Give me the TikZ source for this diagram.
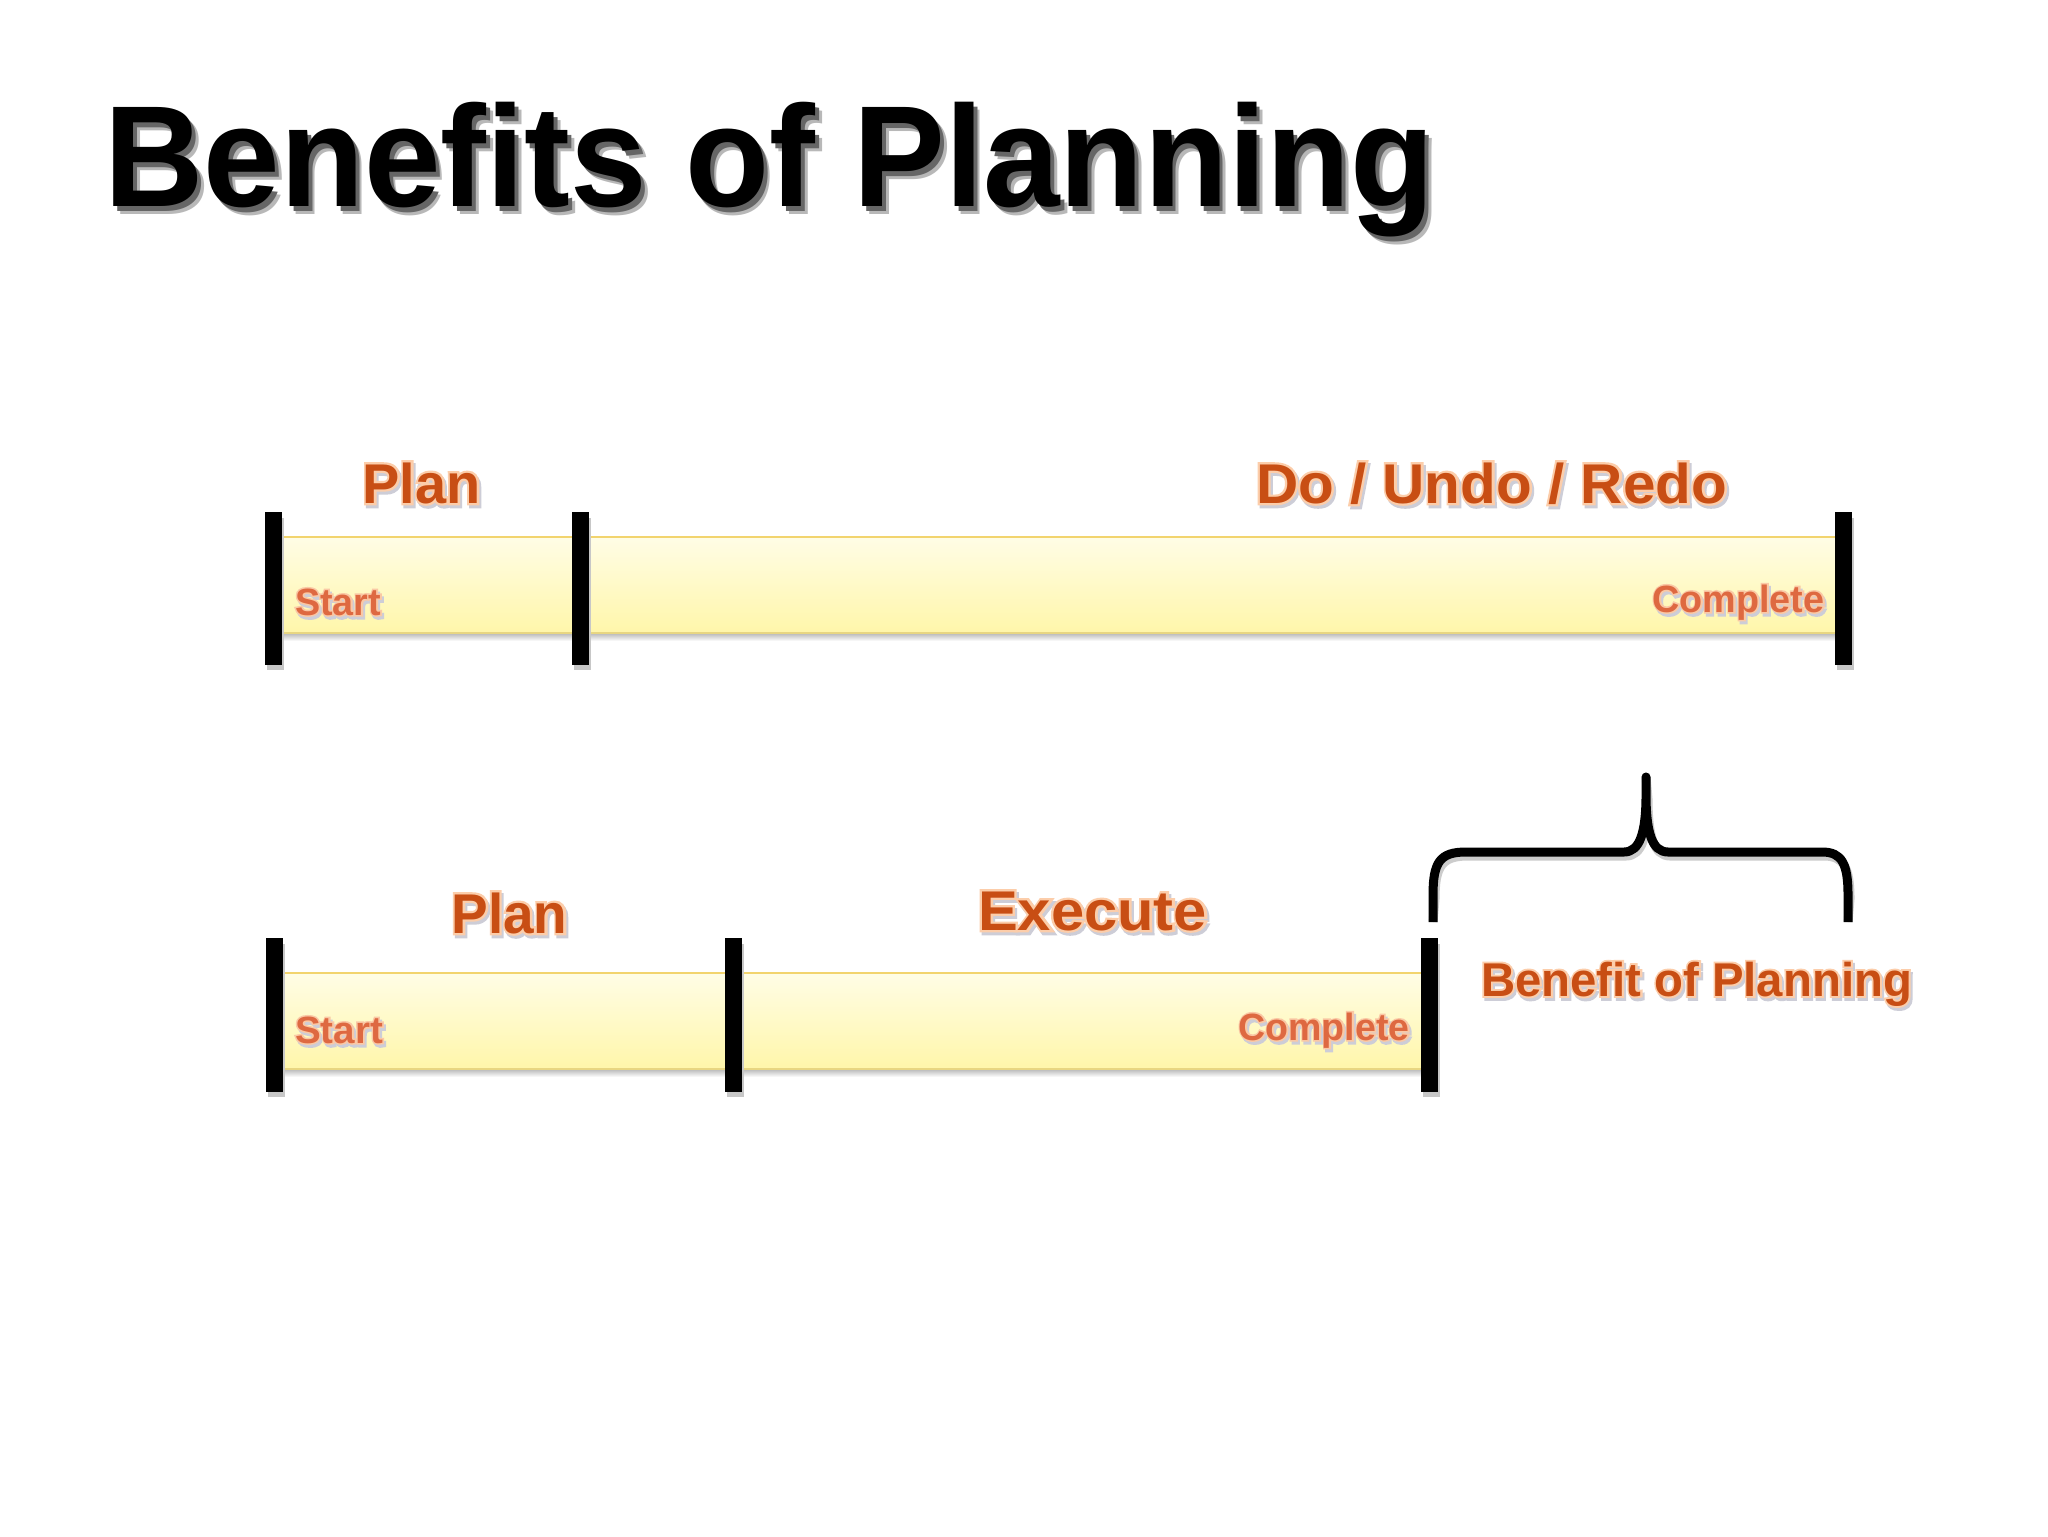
\documentclass[tikz,border=0pt]{standalone}
\usepackage{fontspec}
\usepackage{graphicx}
\newfontfamily\sansf{Liberation Sans}
\newfontfamily\sansglow{Liberation Sans}[FakeBold=8]
\definecolor{lblc}{RGB}{200,78,20}
\definecolor{lblglowc}{RGB}{252,205,170}
\definecolor{smc}{RGB}{222,105,65}
\definecolor{smglowc}{RGB}{250,200,165}
\definecolor{shadc}{RGB}{205,205,215}
\definecolor{bandtop}{RGB}{255,253,230}
\definecolor{bandbot}{RGB}{255,246,170}
\definecolor{bandline}{RGB}{242,212,110}
\definecolor{bandlow}{RGB}{232,214,130}
% #1 size, #2 width, #3 main colour, #4 glow colour, #5 shadow colour, #6 text
\newcommand\fx[6]{\resizebox{#2}{\height}{\sansf\fontsize{#1}{#1}\selectfont\bfseries
  \rlap{\kern1pt\raisebox{-1.5pt}{\sansglow\bfseries\color{#5}#6}}%
  \rlap{\sansglow\bfseries\color{#4}#6}%
  {\color{#3}#6}}}
\newcommand\ttl[1]{\resizebox{665pt}{\height}{\sansf\fontsize{72pt}{72pt}\selectfont\bfseries
  \rlap{\kern3.5pt\raisebox{-4pt}{\color{black!28}#1}}%
  \rlap{\kern2pt\raisebox{-2.5pt}{\color{black!60}#1}}%
  {\color{black}#1}}}
\begin{document}
\begin{tikzpicture}[x=0.5pt,y=-0.5pt,
  bar/.style={line width=8.5pt,black},
  barshadow/.style={line width=8.5pt,black!22},
  lbl/.style={inner sep=0pt,anchor=base},
  bandsh/.style={top color=black!28,bottom color=white,draw=none}]
\useasboundingbox (0,0) rectangle (2048,1536);
\fill[white] (0,0) rectangle (2048,1536);

% title
\node[inner sep=0pt,anchor=base west] (title) at (104,206) {\ttl{Benefits of Planning}};

% ---- top row ----
\shade[bandsh] (274,633) rectangle (1843,641);
\shade[top color=bandtop,bottom color=bandbot] (274,536) rectangle (1843,633);
\draw[bandline,line width=1pt] (274,536.5) -- (1843,536.5);
\draw[bandlow,line width=1pt] (274,632.5) -- (1843,632.5);
\coordinate (t1a) at (273.5,512); \coordinate (t1b) at (273.5,665);
\coordinate (t2a) at (580.5,512); \coordinate (t2b) at (580.5,665);
\coordinate (t3a) at (1843.5,512); \coordinate (t3b) at (1843.5,665);
\foreach \c in {273.5,580.5,1843.5}{\draw[barshadow] (\c+2,518) -- (\c+2,670);}
\draw[bar] (t1a) -- (t1b);
\draw[bar] (t2a) -- (t2b);
\draw[bar] (t3a) -- (t3b);

\node[lbl] (plan1) at (421.5,503) {\fx{28pt}{59pt}{lblc}{lblglowc}{shadc}{Plan}};
\node[lbl] (dur) at (1491.5,503) {\fx{28pt}{235.5pt}{lblc}{lblglowc}{shadc}{Do / Undo / Redo}};
\node[lbl] (start1) at (338,615) {\fx{19pt}{43pt}{smc}{smglowc}{shadc}{Start}};
\node[lbl] (comp1) at (1738.5,612) {\fx{19pt}{86pt}{smc}{smglowc}{shadc}{Complete}};

% ---- bottom row ----
\shade[bandsh] (275,1069) rectangle (1430,1077);
\shade[top color=bandtop,bottom color=bandbot] (275,972) rectangle (1430,1069);
\draw[bandline,line width=1pt] (275,972.5) -- (1430,972.5);
\draw[bandlow,line width=1pt] (275,1068.5) -- (1430,1068.5);
\coordinate (b1a) at (274.5,938); \coordinate (b1b) at (274.5,1092);
\coordinate (b2a) at (733.5,938); \coordinate (b2b) at (733.5,1092);
\coordinate (b3a) at (1429.5,938); \coordinate (b3b) at (1429.5,1092);
\foreach \c in {274.5,733.5,1429.5}{\draw[barshadow] (\c+2,944) -- (\c+2,1097);}
\draw[bar] (b1a) -- (b1b);
\draw[bar] (b2a) -- (b2b);
\draw[bar] (b3a) -- (b3b);

\node[lbl] (plan2) at (509.5,933) {\fx{28pt}{58pt}{lblc}{lblglowc}{shadc}{Plan}};
\node[lbl] (exec) at (1092.5,930) {\fx{28pt}{114.5pt}{lblc}{lblglowc}{shadc}{Execute}};
\node[lbl] (start2) at (339,1043) {\fx{19pt}{44pt}{smc}{smglowc}{shadc}{Start}};
\node[lbl] (comp2) at (1324,1040) {\fx{19pt}{85.5pt}{smc}{smglowc}{shadc}{Complete}};

% ---- brace ----
\coordinate (brl) at (1433,922);
\coordinate (brtip) at (1646,777);
\coordinate (brr) at (1848,922);
\begin{scope}[line width=4.5pt,line join=round]
\draw[black!20,shift={(2,4)}] (brl) -- (1433,895) .. controls (1433,862) and (1440,852) .. (1466,852)
  -- (1624,852) .. controls (1640,852) and (1646,832) .. (1646,795) -- (brtip)
  -- (1646,795) .. controls (1646,832) and (1652,852) .. (1668,852)
  -- (1822,852) .. controls (1842,852) and (1848,864) .. (1848,895) -- (brr);
\draw[black] (brl) -- (1433,895) .. controls (1433,862) and (1440,852) .. (1466,852)
  -- (1624,852) .. controls (1640,852) and (1646,832) .. (1646,795) -- (brtip)
  -- (1646,795) .. controls (1646,832) and (1652,852) .. (1668,852)
  -- (1822,852) .. controls (1842,852) and (1848,864) .. (1848,895) -- (brr);
\end{scope}
\node[lbl] (benefit) at (1696.5,996) {\fx{23.7pt}{215.5pt}{lblc}{lblglowc}{shadc}{Benefit of Planning}};
\end{tikzpicture}
\end{document}
